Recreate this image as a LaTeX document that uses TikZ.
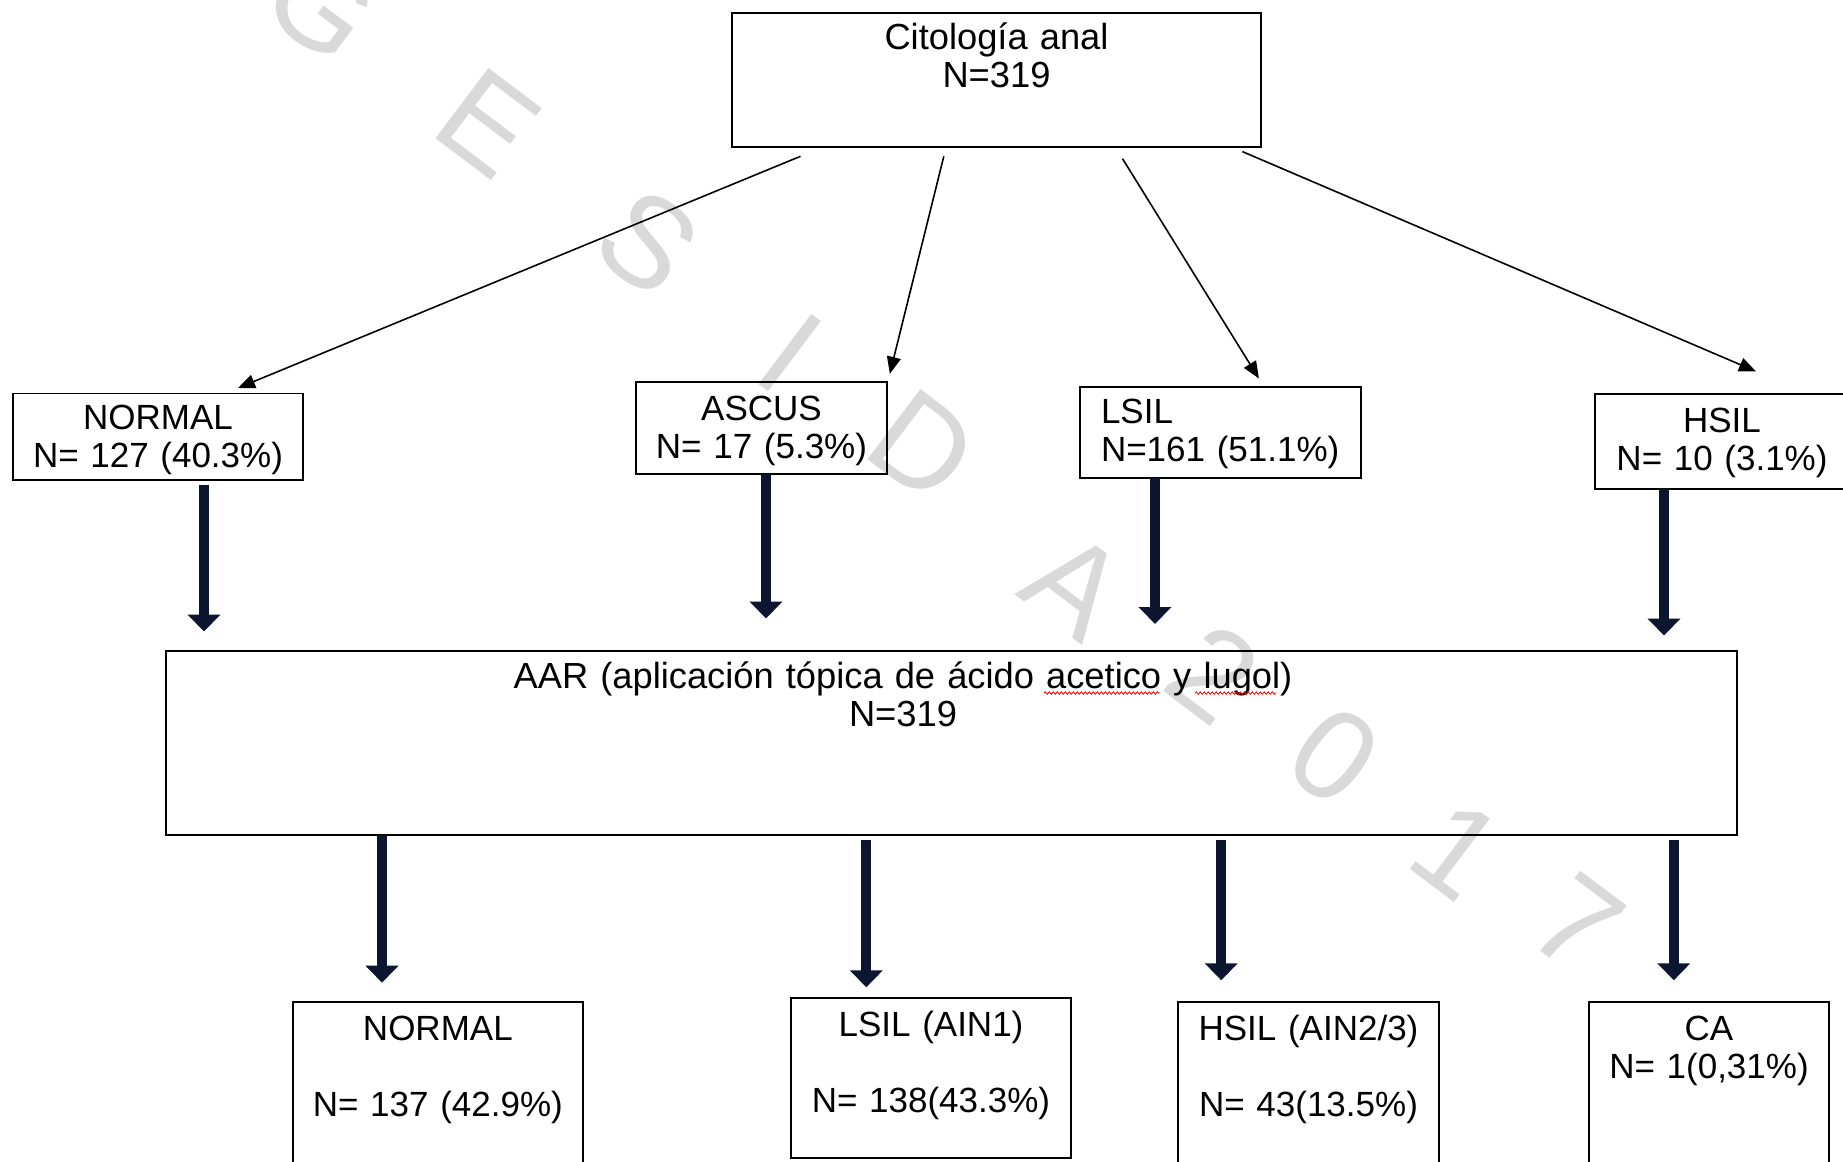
\documentclass[tikz,border=0pt]{standalone}
\usepackage{fontspec}
\setmainfont{Liberation Sans}
\usetikzlibrary{arrows.meta,calc,decorations.pathmorphing}
\definecolor{arrowblue}{RGB}{12,22,48}
\definecolor{wmgray}{RGB}{217,217,217}

\begin{document}
\begin{tikzpicture}[x=1pt, y=-1pt,
    cbox/.style={draw, line width=1.8pt, anchor=north west, inner sep=0pt, outer sep=0pt,
                 align=center, font=\fontsize{35}{38}\selectfont},
    thinarrow/.style={-{Triangle[length=17pt,width=14pt]}, line width=1.6pt},
    fatarrow/.style={-{Triangle[length=17pt,width=32pt]}, line width=10pt, draw=arrowblue},
    wmark/.style={text=wmgray, font=\fontsize{128}{128}\selectfont, rotate=-37, inner sep=0pt},
    squiggle/.style={red, line width=0.8pt, decorate,
                     decoration={snake, amplitude=1.2pt, segment length=4pt}}]
  \path[use as bounding box, fill=white] (0,0) rectangle (1843,1161);

  % watermark
  \foreach \lett/\px/\py in {G/322/4, E/488/123, S/648/242, I/790/353, D/923/446,
                             A/1075/585, 2/1214/673, 0/1334/756, 1/1457/850, 7/1577/924}
    \node[wmark] (wm\lett) at (\px,\py) {\lett};

  % first level
  \node[cbox, text width=529pt, text height=37pt, text depth=97pt,
        font=\fontsize{36.3}{38}\selectfont] (cito) at (732,13) {Citología anal\\N=319};
  \node[cbox, text width=290pt, text height=35.5pt, text depth=51pt]
    (normal) at (13,393.5) {NORMAL\\N= 127 (40.3\%)};
  \node[cbox, text width=251pt, text height=38.5pt, text depth=53.5pt]
    (ascus) at (636,382) {ASCUS\\N= 17 (5.3\%)};
  \node[cbox, align=left, inner xsep=21pt, text width=239pt, text height=37pt, text depth=54.3pt]
    (lsil) at (1080,386.7) {LSIL\\N=161 (51.1\%)};
  \node[cbox, text width=254pt, text height=38.5pt, text depth=56.5pt]
    (hsil) at (1595,394) {HSIL\\N= 10 (3.1\%)};

  % AAR
  \node[cbox, text width=1571pt, text height=37.5pt, text depth=146.5pt,
        font=\fontsize{36.3}{38}\selectfont] (aar) at (166,651)
    {\hspace*{-97pt}AAR (aplicación tópica de ácido acetico y lugol)\\\hspace*{-97pt}N=319};
  \draw[squiggle] (1044,693) -- (1160,693);
  \draw[squiggle] (1195,693) -- (1276,693);

  % second level
  \node[cbox, text width=290.3pt, text height=38.3pt, text depth=135pt]
    (normalb) at (292.7,1001.7) {NORMAL\\[38pt]N= 137 (42.9\%)};
  \node[cbox, text width=280pt, text height=38.3pt, text depth=121.7pt]
    (lsilb) at (791,998) {LSIL (AIN1)\\[38pt]N= 138(43.3\%)};
  \node[cbox, text width=261pt, text height=38.3pt, text depth=135pt]
    (hsilb) at (1178,1001.7) {HSIL (AIN2/3)\\[38pt]N= 43(13.5\%)};
  \node[cbox, text width=240pt, text height=38.3pt, text depth=135pt]
    (ca) at (1589,1001.7) {CA\\N= 1(0,31\%)};

  \draw[thinarrow] ($(cito.south west)+(68.5,9.3)$) -- ($(normal.north west)+(225,-5.5)$);
  \draw[thinarrow] ($(cito.south west)+(211.8,9.3)$) -- ($(ascus.north west)+(253.8,-8.2)$);
  \draw[thinarrow] ($(cito.south west)+(390.5,11.7)$) -- ($(lsil.north west)+(178.9,-8.2)$);
  \draw[thinarrow] ($(cito.south west)+(510.4,4.6)$) -- ($(hsil.north west)+(161,-22.6)$);

  \draw[fatarrow] ($(normal.south west)+(191,5)$) -- ($(aar.north west)+(38,-19.5)$);
  \draw[fatarrow] ($(ascus.south west)+(130,0)$) -- ($(aar.north west)+(600,-32.5)$);
  \draw[fatarrow] ($(lsil.south west)+(75,0)$) -- ($(aar.north west)+(989,-27)$);
  \draw[fatarrow] ($(hsil.south west)+(69,0)$) -- ($(aar.north west)+(1498,-15.5)$);

  \draw[fatarrow] ($(aar.south west)+(216,0)$) -- ($(normalb.north west)+(89.3,-19)$);
  \draw[fatarrow] ($(aar.south west)+(700.3,5.4)$) -- ($(lsilb.north west)+(75.3,-10.7)$);
  \draw[fatarrow] ($(aar.south west)+(1055.2,5.4)$) -- ($(hsilb.north west)+(43.2,-21.4)$);
  \draw[fatarrow] ($(aar.south west)+(1507.8,5.4)$) -- ($(ca.north west)+(84.8,-21.4)$);
\end{tikzpicture}
\end{document}
